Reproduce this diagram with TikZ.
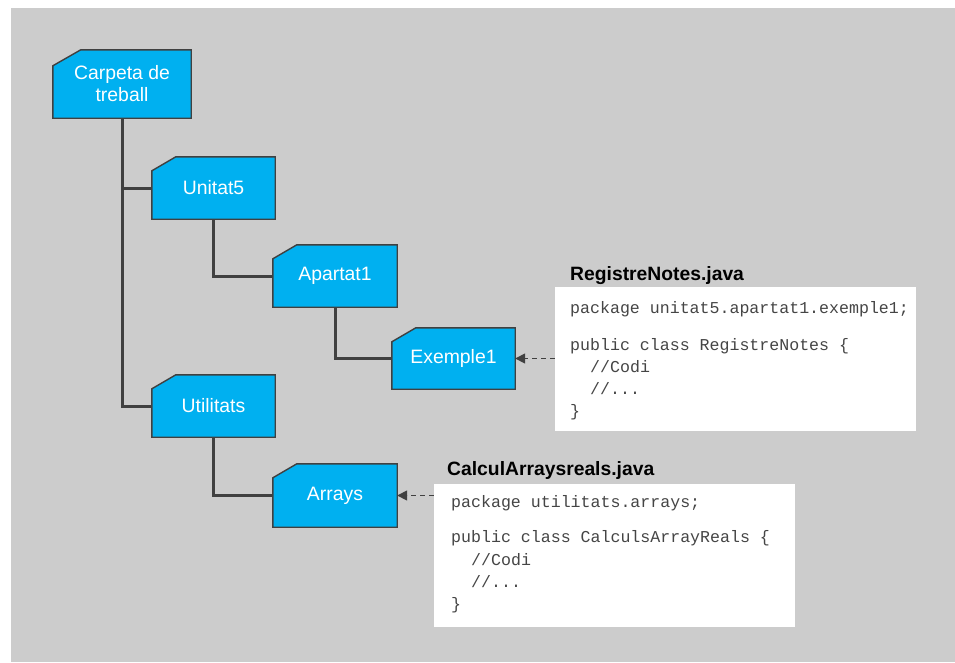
\documentclass[tikz,border=0pt]{standalone}
\usepackage{fontspec}
\setmainfont{Liberation Sans}
\newfontfamily\codefont{Liberation Mono}
\usetikzlibrary{backgrounds,arrows.meta}

\definecolor{folderblue}{HTML}{00B0F0}
\definecolor{linegray}{HTML}{404040}
\definecolor{panegray}{HTML}{CCCCCC}
\definecolor{codegray}{HTML}{454545}

\begin{document}
\begin{tikzpicture}[x=1pt,y=-1pt,
  folder/.style={inner sep=0pt, text=white, align=center,
    font=\fontsize{19.4}{22}\selectfont},
  folderline/.style={fill=folderblue, draw=linegray, line width=1.4pt, line join=miter},
  tree/.style={draw=linegray, line width=3pt},
  ref/.style={draw=linegray, line width=1.6pt, dash pattern=on 5pt off 4pt,
    -{Triangle[length=10pt,width=10pt]}},
  codebox/.style={fill=white, inner sep=0pt},
  codeline/.style={anchor=base west, inner sep=0pt, text=codegray,
    font=\codefont\fontsize{16.6}{20}\selectfont},
  filetitle/.style={anchor=base west, inner sep=0pt,
    font=\bfseries\fontsize{19.3}{22}\selectfont}]

% folders
\node[folder, minimum width=138pt, minimum height=68pt] (carpeta) at (122,84) {Carpeta de\\treball};
\node[folder, minimum width=123pt, minimum height=62pt] (unitat) at (213.5,188) {Unitat5};
\node[folder, minimum width=124pt, minimum height=62pt] (apartat) at (335,276) {Apartat1};
\node[folder, minimum width=123pt, minimum height=61pt] (exemple) at (453.5,358.5) {Exemple1};
\node[folder, minimum width=123pt, minimum height=62pt] (utilitats) at (213.5,406) {Utilitats};
\node[folder, minimum width=124pt, minimum height=63pt] (arrays) at (335,495.5) {Arrays};

% page, grey pane and folder outlines with the clipped top-left corner
\begin{scope}[on background layer]
  \fill[white] (0,0) rectangle (955,662);
  \fill[panegray] (11,8) rectangle (955,662);
  \foreach \n/\dx/\dy in {carpeta/28/16, unitat/24/14, apartat/24/14,
                          exemple/24/14, utilitats/24/14, arrays/24/14}
    \path[folderline] (\n.south west) -- (\n.south east) -- (\n.north east)
      -- ([xshift=\dx pt]\n.north west) -- ([yshift=-\dy pt]\n.north west) -- cycle;
\end{scope}

% tree connectors
\draw[tree] (carpeta.south) |- (utilitats.west);
\draw[tree] (carpeta.south |- unitat.west) -- (unitat.west);
\draw[tree] (unitat.south) |- (apartat.west);
\draw[tree] (apartat.south) |- (exemple.west);
\draw[tree] (utilitats.south) |- (arrays.west);

% source file boxes
\node[codebox, minimum width=361pt, minimum height=144pt] (code1) at (735.5,359) {};
\node[codebox, minimum width=361pt, minimum height=143pt] (code2) at (614.5,555.5) {};

\node[filetitle] (title1) at (570,280) {RegistreNotes.java};
\node[filetitle] (title2) at (447,475) {CalculArraysreals.java};

\node[codeline] (c1a) at (570,313) {package unitat5.apartat1.exemple1;};
\node[codeline] (c1b) at (570,350) {public class RegistreNotes \{};
\node[codeline] (c1c) at (590,372) {//Codi};
\node[codeline] (c1d) at (590,394) {//...};
\node[codeline] (c1e) at (570,416) {\}};

\node[codeline] (c2a) at (451,507) {package utilitats.arrays;};
\node[codeline] (c2b) at (451,542) {public class CalculsArrayReals \{};
\node[codeline] (c2c) at (471,565) {//Codi};
\node[codeline] (c2d) at (471,587) {//...};
\node[codeline] (c2e) at (451,609) {\}};

% references from files to folders
\draw[ref] (code1.west |- exemple.east) -- (exemple.east);
\draw[ref] (code2.west |- arrays.east) -- (arrays.east);
\end{tikzpicture}
\end{document}
